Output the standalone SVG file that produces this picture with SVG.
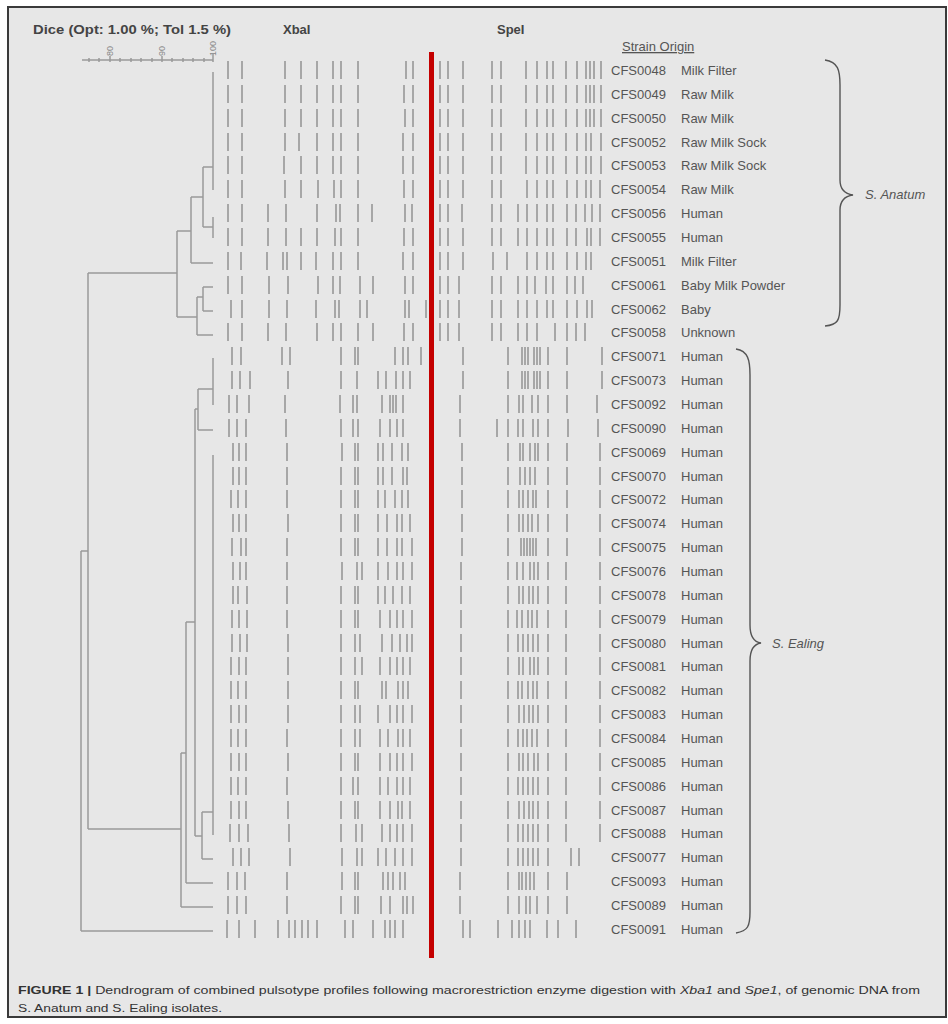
<svg xmlns="http://www.w3.org/2000/svg" width="948" height="1024" viewBox="0 0 948 1024">
<defs>
<style>
.band{stroke:#a0a0a0;stroke-width:1.8;fill:none}
.lbl{font-family:"Liberation Sans",Arial,sans-serif;font-size:13px;fill:#555}
.hdr{font-family:"Liberation Sans",Arial,sans-serif;font-size:13px;font-weight:bold;fill:#444}
.den{stroke:#9a9a9a;stroke-width:1.5;fill:none}
.brace{stroke:#555;stroke-width:1.4;fill:none}
.cap{font-family:"Liberation Sans",Arial,sans-serif;font-size:11px;fill:#333}
.sc{font-family:"Liberation Sans",Arial,sans-serif;font-size:9px;fill:#888}
</style>
</defs>
<rect x="0" y="0" width="948" height="1024" fill="#ffffff"/>
<rect x="8" y="7" width="938" height="1010" fill="#e7e7e7" stroke="#3a3a3a" stroke-width="2"/>

<g id="header">
<text class="hdr" x="33" y="34" textLength="198" lengthAdjust="spacingAndGlyphs">Dice (Opt: 1.00 %; Tol 1.5 %)</text>
<text class="hdr" x="283" y="34">XbaI</text>
<text class="hdr" x="497" y="34">SpeI</text>
<text class="lbl" x="622" y="51" text-decoration="underline">Strain Origin</text>
</g>

<g id="scale">
<path class="den" d="M82 60H213M89 58v4M99 58v4M110 56v6M120 58v4M131 58v4M141 58v4M152 58v4M162 56v6M172 58v4M183 58v4M193 58v4M204 58v4M213 54v8"/>
<text class="sc" transform="translate(113,56) rotate(-90)">80</text>
<text class="sc" transform="translate(165,56) rotate(-90)">90</text>
<text class="sc" transform="translate(216,56) rotate(-90)">100</text>
</g>

<g id="connectors">
<path class="den" d="M213 72V190M203 167H213M213 217V238M203 227H213M203 167V227M191 197H203M191 197V263M191 263H213M177 231H191M177 231V317M177 317H197M197 297V335M197 335H213M197 297H203M203 287V311M203 287H213M203 311H213M88 273H177M88 273V829M88 829H181M81 551H88M81 551V931M81 931H213"/>
<path class="den" d="M213 358V405M198 389H213M198 389V430M198 430H213M195 409H198M195 409V836M213 455V835M202 812H213M202 812V859M202 859H213M195 836H202M186 622H195M186 622V883M186 883H213M181 753H186M181 753V907M181 907H213"/>
</g>

<g id="divider">
<rect x="429" y="52" width="5" height="906" fill="#c40000"/>
</g>

<g id="CFS0048" transform="translate(0,70)">
<path class="band" d="M228 -9v18M242 -9v18M285 -9v18M301 -9v18M317 -9v18M333 -9v18M341 -9v18M358 -9v18M406 -9v18M413 -9v18M440 -9v18M448 -9v18M463 -9v18M492 -9v18M501 -9v18M526 -9v18M537 -9v18M547 -9v18M553 -9v18M566 -9v18M577 -9v18M586 -9v18M590 -9v18M594 -9v18M601 -9v18"/>
<text class="lbl" x="611" y="5">CFS0048<tspan x="681">Milk Filter</tspan></text>
</g>
<g id="CFS0049" transform="translate(0,94)">
<path class="band" d="M228 -9v18M242 -9v18M285 -9v18M301 -9v18M317 -9v18M333 -9v18M341 -9v18M358 -9v18M404 -9v18M413 -9v18M440 -9v18M448 -9v18M463 -9v18M492 -9v18M501 -9v18M526 -9v18M537 -9v18M547 -9v18M553 -9v18M566 -9v18M577 -9v18M586 -9v18M590 -9v18M594 -9v18M601 -9v18"/>
<text class="lbl" x="611" y="5">CFS0049<tspan x="681">Raw Milk</tspan></text>
</g>
<g id="CFS0050" transform="translate(0,118)">
<path class="band" d="M228 -9v18M242 -9v18M285 -9v18M301 -9v18M317 -9v18M333 -9v18M341 -9v18M358 -9v18M405 -9v18M413 -9v18M440 -9v18M448 -9v18M463 -9v18M492 -9v18M501 -9v18M526 -9v18M537 -9v18M547 -9v18M553 -9v18M566 -9v18M577 -9v18M586 -9v18M590 -9v18M594 -9v18M601 -9v18"/>
<text class="lbl" x="611" y="5">CFS0050<tspan x="681">Raw Milk</tspan></text>
</g>
<g id="CFS0052" transform="translate(0,142)">
<path class="band" d="M228 -9v18M242 -9v18M285 -9v18M299 -9v18M317 -9v18M333 -9v18M341 -9v18M358 -9v18M403 -9v18M413 -9v18M440 -9v18M448 -9v18M463 -9v18M492 -9v18M501 -9v18M526 -9v18M537 -9v18M547 -9v18M553 -9v18M566 -9v18M577 -9v18M586 -9v18M591 -9v18M601 -9v18"/>
<text class="lbl" x="611" y="5">CFS0052<tspan x="681">Raw Milk Sock</tspan></text>
</g>
<g id="CFS0053" transform="translate(0,165)">
<path class="band" d="M228 -9v18M242 -9v18M284 -9v18M301 -9v18M317 -9v18M333 -9v18M341 -9v18M358 -9v18M403 -9v18M413 -9v18M440 -9v18M448 -9v18M463 -9v18M492 -9v18M501 -9v18M526 -9v18M537 -9v18M547 -9v18M553 -9v18M566 -9v18M577 -9v18M586 -9v18M591 -9v18M601 -9v18"/>
<text class="lbl" x="611" y="5">CFS0053<tspan x="681">Raw Milk Sock</tspan></text>
</g>
<g id="CFS0054" transform="translate(0,189)">
<path class="band" d="M228 -9v18M242 -9v18M285 -9v18M301 -9v18M318 -9v18M334 -9v18M341 -9v18M358 -9v18M404 -9v18M413 -9v18M440 -9v18M448 -9v18M463 -9v18M492 -9v18M501 -9v18M527 -9v18M537 -9v18M547 -9v18M553 -9v18M567 -9v18M577 -9v18M586 -9v18M591 -9v18M600 -9v18"/>
<text class="lbl" x="611" y="5">CFS0054<tspan x="681">Raw Milk</tspan></text>
</g>
<g id="CFS0056" transform="translate(0,213)">
<path class="band" d="M228 -9v18M242 -9v18M268 -9v18M286 -9v18M317 -9v18M336 -9v18M340 -9v18M358 -9v18M372 -9v18M405 -9v18M412 -9v18M440 -9v18M448 -9v18M462 -9v18M492 -9v18M501 -9v18M518 -9v18M527 -9v18M537 -9v18M547 -9v18M553 -9v18M567 -9v18M576 -9v18M585 -9v18M592 -9v18M600 -9v18"/>
<text class="lbl" x="611" y="5">CFS0056<tspan x="681">Human</tspan></text>
</g>
<g id="CFS0055" transform="translate(0,237)">
<path class="band" d="M228 -9v18M242 -9v18M268 -9v18M286 -9v18M301 -9v18M317 -9v18M335 -9v18M341 -9v18M358 -9v18M404 -9v18M413 -9v18M440 -9v18M448 -9v18M463 -9v18M492 -9v18M501 -9v18M518 -9v18M527 -9v18M537 -9v18M547 -9v18M553 -9v18M567 -9v18M576 -9v18M587 -9v18M591 -9v18M600 -9v18"/>
<text class="lbl" x="611" y="5">CFS0055<tspan x="681">Human</tspan></text>
</g>
<g id="CFS0051" transform="translate(0,261)">
<path class="band" d="M228 -9v18M241 -9v18M267 -9v18M283 -9v18M287 -9v18M301 -9v18M316 -9v18M333 -9v18M341 -9v18M358 -9v18M403 -9v18M413 -9v18M440 -9v18M448 -9v18M463 -9v18M493 -9v18M507 -9v18M527 -9v18M537 -9v18M547 -9v18M553 -9v18M567 -9v18M577 -9v18M586 -9v18M591 -9v18"/>
<text class="lbl" x="611" y="5">CFS0051<tspan x="681">Milk Filter</tspan></text>
</g>
<g id="CFS0061" transform="translate(0,285)">
<path class="band" d="M228 -9v18M242 -9v18M269 -9v18M288 -9v18M318 -9v18M333 -9v18M340 -9v18M360 -9v18M373 -9v18M405 -9v18M413 -9v18M440 -9v18M448 -9v18M459 -9v18M492 -9v18M501 -9v18M518 -9v18M527 -9v18M535 -9v18M546 -9v18M553 -9v18M567 -9v18M575 -9v18M583 -9v18"/>
<text class="lbl" x="611" y="5">CFS0061<tspan x="681">Baby Milk Powder</tspan></text>
</g>
<g id="CFS0062" transform="translate(0,309)">
<path class="band" d="M231 -9v18M242 -9v18M269 -9v18M287 -9v18M316 -9v18M335 -9v18M339 -9v18M360 -9v18M367 -9v18M405 -9v18M409 -9v18M426 -9v18M440 -9v18M448 -9v18M459 -9v18M492 -9v18M501 -9v18M518 -9v18M527 -9v18M537 -9v18M547 -9v18M553 -9v18M567 -9v18M577 -9v18M587 -9v18M592 -9v18"/>
<text class="lbl" x="611" y="5">CFS0062<tspan x="681">Baby</tspan></text>
</g>
<g id="CFS0058" transform="translate(0,332)">
<path class="band" d="M228 -9v18M242 -9v18M268 -9v18M286 -9v18M317 -9v18M333 -9v18M341 -9v18M358 -9v18M373 -9v18M404 -9v18M413 -9v18M440 -9v18M448 -9v18M459 -9v18M492 -9v18M501 -9v18M518 -9v18M527 -9v18M537 -9v18M555 -9v18M567 -9v18M576 -9v18M585 -9v18"/>
<text class="lbl" x="611" y="5">CFS0058<tspan x="681">Unknown</tspan></text>
</g>
<g id="CFS0071" transform="translate(0,356)">
<path class="band" d="M232 -9v18M241 -9v18M282 -9v18M290 -9v18M341 -9v18M355 -9v18M358 -9v18M395 -9v18M403 -9v18M408 -9v18M421 -9v18M463 -9v18M508 -9v18M522 -9v18M525 -9v18M528 -9v18M534 -9v18M537 -9v18M540 -9v18M548 -9v18M567 -9v18M602 -9v18"/>
<text class="lbl" x="611" y="5">CFS0071<tspan x="681">Human</tspan></text>
</g>
<g id="CFS0073" transform="translate(0,380)">
<path class="band" d="M232 -9v18M240 -9v18M250 -9v18M288 -9v18M341 -9v18M357 -9v18M378 -9v18M386 -9v18M396 -9v18M403 -9v18M410 -9v18M463 -9v18M508 -9v18M522 -9v18M525 -9v18M528 -9v18M534 -9v18M537 -9v18M540 -9v18M548 -9v18M567 -9v18M602 -9v18"/>
<text class="lbl" x="611" y="5">CFS0073<tspan x="681">Human</tspan></text>
</g>
<g id="CFS0092" transform="translate(0,404)">
<path class="band" d="M229 -9v18M237 -9v18M249 -9v18M285 -9v18M340 -9v18M353 -9v18M357 -9v18M382 -9v18M390 -9v18M393 -9v18M396 -9v18M403 -9v18M460 -9v18M508 -9v18M519 -9v18M523 -9v18M532 -9v18M538 -9v18M548 -9v18M567 -9v18M597 -9v18"/>
<text class="lbl" x="611" y="5">CFS0092<tspan x="681">Human</tspan></text>
</g>
<g id="CFS0090" transform="translate(0,428)">
<path class="band" d="M229 -9v18M237 -9v18M246 -9v18M286 -9v18M341 -9v18M353 -9v18M358 -9v18M380 -9v18M390 -9v18M397 -9v18M403 -9v18M460 -9v18M497 -9v18M508 -9v18M518 -9v18M523 -9v18M533 -9v18M538 -9v18M548 -9v18M568 -9v18M598 -9v18"/>
<text class="lbl" x="611" y="5">CFS0090<tspan x="681">Human</tspan></text>
</g>
<g id="CFS0069" transform="translate(0,452)">
<path class="band" d="M233 -9v18M239 -9v18M246 -9v18M287 -9v18M342 -9v18M355 -9v18M358 -9v18M378 -9v18M383 -9v18M392 -9v18M402 -9v18M408 -9v18M462 -9v18M508 -9v18M520 -9v18M523 -9v18M530 -9v18M535 -9v18M538 -9v18M548 -9v18M567 -9v18M600 -9v18"/>
<text class="lbl" x="611" y="5">CFS0069<tspan x="681">Human</tspan></text>
</g>
<g id="CFS0070" transform="translate(0,476)">
<path class="band" d="M233 -9v18M239 -9v18M246 -9v18M287 -9v18M341 -9v18M355 -9v18M358 -9v18M378 -9v18M383 -9v18M392 -9v18M403 -9v18M407 -9v18M462 -9v18M508 -9v18M520 -9v18M525 -9v18M530 -9v18M535 -9v18M548 -9v18M567 -9v18M600 -9v18"/>
<text class="lbl" x="611" y="5">CFS0070<tspan x="681">Human</tspan></text>
</g>
<g id="CFS0072" transform="translate(0,499)">
<path class="band" d="M231 -9v18M238 -9v18M246 -9v18M287 -9v18M341 -9v18M355 -9v18M358 -9v18M378 -9v18M385 -9v18M395 -9v18M402 -9v18M408 -9v18M462 -9v18M508 -9v18M519 -9v18M523 -9v18M528 -9v18M533 -9v18M536 -9v18M548 -9v18M567 -9v18M600 -9v18"/>
<text class="lbl" x="611" y="5">CFS0072<tspan x="681">Human</tspan></text>
</g>
<g id="CFS0074" transform="translate(0,523)">
<path class="band" d="M233 -9v18M239 -9v18M246 -9v18M288 -9v18M341 -9v18M355 -9v18M358 -9v18M378 -9v18M387 -9v18M397 -9v18M402 -9v18M410 -9v18M462 -9v18M508 -9v18M519 -9v18M523 -9v18M528 -9v18M532 -9v18M538 -9v18M548 -9v18M567 -9v18M600 -9v18"/>
<text class="lbl" x="611" y="5">CFS0074<tspan x="681">Human</tspan></text>
</g>
<g id="CFS0075" transform="translate(0,547)">
<path class="band" d="M232 -9v18M241 -9v18M246 -9v18M287 -9v18M341 -9v18M355 -9v18M358 -9v18M378 -9v18M387 -9v18M397 -9v18M402 -9v18M412 -9v18M462 -9v18M508 -9v18M521 -9v18M524 -9v18M527 -9v18M530 -9v18M533 -9v18M536 -9v18M548 -9v18M567 -9v18M600 -9v18"/>
<text class="lbl" x="611" y="5">CFS0075<tspan x="681">Human</tspan></text>
</g>
<g id="CFS0076" transform="translate(0,571)">
<path class="band" d="M233 -9v18M240 -9v18M246 -9v18M287 -9v18M342 -9v18M357 -9v18M362 -9v18M378 -9v18M388 -9v18M397 -9v18M403 -9v18M412 -9v18M461 -9v18M508 -9v18M517 -9v18M523 -9v18M530 -9v18M534 -9v18M538 -9v18M548 -9v18M566 -9v18M600 -9v18"/>
<text class="lbl" x="611" y="5">CFS0076<tspan x="681">Human</tspan></text>
</g>
<g id="CFS0078" transform="translate(0,595)">
<path class="band" d="M233 -9v18M238 -9v18M247 -9v18M287 -9v18M341 -9v18M355 -9v18M358 -9v18M378 -9v18M385 -9v18M393 -9v18M402 -9v18M410 -9v18M461 -9v18M508 -9v18M519 -9v18M523 -9v18M529 -9v18M533 -9v18M538 -9v18M548 -9v18M566 -9v18M600 -9v18"/>
<text class="lbl" x="611" y="5">CFS0078<tspan x="681">Human</tspan></text>
</g>
<g id="CFS0079" transform="translate(0,619)">
<path class="band" d="M232 -9v18M239 -9v18M247 -9v18M287 -9v18M341 -9v18M355 -9v18M358 -9v18M380 -9v18M390 -9v18M397 -9v18M403 -9v18M412 -9v18M461 -9v18M508 -9v18M517 -9v18M522 -9v18M528 -9v18M532 -9v18M537 -9v18M548 -9v18M566 -9v18M600 -9v18"/>
<text class="lbl" x="611" y="5">CFS0079<tspan x="681">Human</tspan></text>
</g>
<g id="CFS0080" transform="translate(0,643)">
<path class="band" d="M232 -9v18M240 -9v18M247 -9v18M288 -9v18M341 -9v18M355 -9v18M360 -9v18M382 -9v18M392 -9v18M400 -9v18M407 -9v18M412 -9v18M461 -9v18M508 -9v18M518 -9v18M523 -9v18M528 -9v18M533 -9v18M538 -9v18M548 -9v18M566 -9v18M600 -9v18"/>
<text class="lbl" x="611" y="5">CFS0080<tspan x="681">Human</tspan></text>
</g>
<g id="CFS0081" transform="translate(0,666)">
<path class="band" d="M231 -9v18M239 -9v18M246 -9v18M288 -9v18M341 -9v18M355 -9v18M362 -9v18M380 -9v18M390 -9v18M397 -9v18M403 -9v18M410 -9v18M461 -9v18M508 -9v18M519 -9v18M523 -9v18M530 -9v18M534 -9v18M538 -9v18M548 -9v18M566 -9v18M600 -9v18"/>
<text class="lbl" x="611" y="5">CFS0081<tspan x="681">Human</tspan></text>
</g>
<g id="CFS0082" transform="translate(0,690)">
<path class="band" d="M231 -9v18M238 -9v18M246 -9v18M288 -9v18M341 -9v18M355 -9v18M358 -9v18M382 -9v18M386 -9v18M398 -9v18M403 -9v18M408 -9v18M461 -9v18M508 -9v18M518 -9v18M522 -9v18M528 -9v18M533 -9v18M537 -9v18M548 -9v18M566 -9v18M600 -9v18"/>
<text class="lbl" x="611" y="5">CFS0082<tspan x="681">Human</tspan></text>
</g>
<g id="CFS0083" transform="translate(0,714)">
<path class="band" d="M231 -9v18M239 -9v18M246 -9v18M288 -9v18M341 -9v18M355 -9v18M360 -9v18M378 -9v18M390 -9v18M397 -9v18M403 -9v18M412 -9v18M461 -9v18M508 -9v18M519 -9v18M524 -9v18M529 -9v18M533 -9v18M538 -9v18M548 -9v18M566 -9v18M600 -9v18"/>
<text class="lbl" x="611" y="5">CFS0083<tspan x="681">Human</tspan></text>
</g>
<g id="CFS0084" transform="translate(0,738)">
<path class="band" d="M231 -9v18M238 -9v18M246 -9v18M287 -9v18M341 -9v18M355 -9v18M360 -9v18M380 -9v18M388 -9v18M398 -9v18M403 -9v18M410 -9v18M461 -9v18M508 -9v18M518 -9v18M523 -9v18M527 -9v18M532 -9v18M537 -9v18M548 -9v18M566 -9v18M600 -9v18"/>
<text class="lbl" x="611" y="5">CFS0084<tspan x="681">Human</tspan></text>
</g>
<g id="CFS0085" transform="translate(0,762)">
<path class="band" d="M231 -9v18M239 -9v18M246 -9v18M288 -9v18M341 -9v18M355 -9v18M358 -9v18M380 -9v18M390 -9v18M397 -9v18M403 -9v18M412 -9v18M461 -9v18M508 -9v18M519 -9v18M523 -9v18M528 -9v18M534 -9v18M538 -9v18M548 -9v18M566 -9v18M600 -9v18"/>
<text class="lbl" x="611" y="5">CFS0085<tspan x="681">Human</tspan></text>
</g>
<g id="CFS0086" transform="translate(0,786)">
<path class="band" d="M231 -9v18M238 -9v18M246 -9v18M287 -9v18M341 -9v18M353 -9v18M358 -9v18M380 -9v18M388 -9v18M397 -9v18M403 -9v18M410 -9v18M461 -9v18M508 -9v18M518 -9v18M523 -9v18M528 -9v18M533 -9v18M538 -9v18M548 -9v18M566 -9v18M600 -9v18"/>
<text class="lbl" x="611" y="5">CFS0086<tspan x="681">Human</tspan></text>
</g>
<g id="CFS0087" transform="translate(0,810)">
<path class="band" d="M231 -9v18M239 -9v18M246 -9v18M288 -9v18M341 -9v18M355 -9v18M358 -9v18M380 -9v18M390 -9v18M398 -9v18M402 -9v18M410 -9v18M461 -9v18M508 -9v18M519 -9v18M524 -9v18M529 -9v18M533 -9v18M538 -9v18M548 -9v18M566 -9v18M600 -9v18"/>
<text class="lbl" x="611" y="5">CFS0087<tspan x="681">Human</tspan></text>
</g>
<g id="CFS0088" transform="translate(0,833)">
<path class="band" d="M230 -9v18M239 -9v18M248 -9v18M289 -9v18M341 -9v18M356 -9v18M362 -9v18M382 -9v18M390 -9v18M397 -9v18M403 -9v18M412 -9v18M461 -9v18M508 -9v18M518 -9v18M523 -9v18M528 -9v18M533 -9v18M538 -9v18M548 -9v18M566 -9v18M600 -9v18"/>
<text class="lbl" x="611" y="5">CFS0088<tspan x="681">Human</tspan></text>
</g>
<g id="CFS0077" transform="translate(0,857)">
<path class="band" d="M233 -9v18M241 -9v18M249 -9v18M290 -9v18M342 -9v18M357 -9v18M362 -9v18M378 -9v18M386 -9v18M395 -9v18M403 -9v18M412 -9v18M461 -9v18M508 -9v18M518 -9v18M523 -9v18M528 -9v18M533 -9v18M538 -9v18M548 -9v18M571 -9v18M579 -9v18"/>
<text class="lbl" x="611" y="5">CFS0077<tspan x="681">Human</tspan></text>
</g>
<g id="CFS0093" transform="translate(0,881)">
<path class="band" d="M228 -9v18M237 -9v18M245 -9v18M287 -9v18M342 -9v18M355 -9v18M358 -9v18M383 -9v18M388 -9v18M393 -9v18M400 -9v18M405 -9v18M460 -9v18M508 -9v18M519 -9v18M522 -9v18M526 -9v18M530 -9v18M534 -9v18M548 -9v18M567 -9v18"/>
<text class="lbl" x="611" y="5">CFS0093<tspan x="681">Human</tspan></text>
</g>
<g id="CFS0089" transform="translate(0,905)">
<path class="band" d="M228 -9v18M237 -9v18M246 -9v18M287 -9v18M341 -9v18M355 -9v18M358 -9v18M381 -9v18M390 -9v18M403 -9v18M407 -9v18M413 -9v18M460 -9v18M508 -9v18M519 -9v18M526 -9v18M530 -9v18M537 -9v18M548 -9v18M567 -9v18"/>
<text class="lbl" x="611" y="5">CFS0089<tspan x="681">Human</tspan></text>
</g>
<g id="CFS0091" transform="translate(0,929)">
<path class="band" d="M227 -9v18M239 -9v18M255 -9v18M278 -9v18M289 -9v18M295 -9v18M302 -9v18M308 -9v18M317 -9v18M345 -9v18M353 -9v18M373 -9v18M385 -9v18M390 -9v18M395 -9v18M403 -9v18M463 -9v18M470 -9v18M498 -9v18M512 -9v18M519 -9v18M525 -9v18M530 -9v18M547 -9v18M558 -9v18M576 -9v18"/>
<text class="lbl" x="611" y="5">CFS0091<tspan x="681">Human</tspan></text>
</g>

<g id="group-anatum">
<path class="brace" d="M825 60C838 62 840 70 840 85L840 180C840 190 846 194 853 195C846 196 840 200 840 210L840 305C840 320 838 325 825 326"/>
<text class="lbl" x="865" y="199" font-style="italic">S. Anatum</text>
</g>
<g id="group-ealing">
<path class="brace" d="M736 349C748 351 750 360 750 375L750 625C750 637 754 642 761 643C754 644 750 649 750 661L750 912C750 926 748 931 736 933"/>
<text class="lbl" x="772" y="648" font-style="italic">S. Ealing</text>
</g>

<g id="caption">
<text class="cap" x="18" y="994" textLength="902" lengthAdjust="spacingAndGlyphs"><tspan font-weight="bold">FIGURE 1 |</tspan> Dendrogram of combined pulsotype profiles following macrorestriction enzyme digestion with <tspan font-style="italic">Xba1</tspan> and <tspan font-style="italic">Spe1</tspan>, of genomic DNA from</text>
<text class="cap" x="18" y="1012" textLength="204" lengthAdjust="spacingAndGlyphs">S. Anatum and S. Ealing isolates.</text>
</g>
</svg>
